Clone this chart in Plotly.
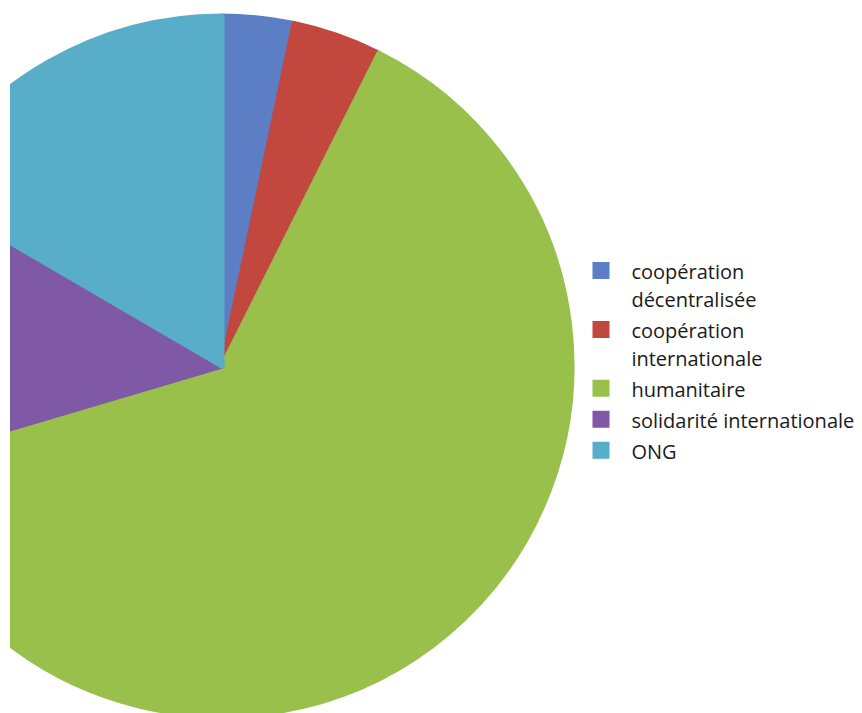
import plotly.graph_objects as go

labels = ["coopération décentralisée", "coopération internationale", "humanitaire",
          "solidarité internationale", "ONG"]
legend_lines = [["coopération", "décentralisée"], ["coopération", "internationale"],
                ["humanitaire"], ["solidarité internationale"], ["ONG"]]
values = [3.3, 4.1, 63.0, 13.0, 16.6]
colors = ["#5B7EC5", "#C2473F", "#99C04B", "#8059A6", "#58ADC8"]

SHIFT = 128
W = 862 + SHIFT
H = 716
R = 350

pad = "&nbsp;&nbsp;"
def fmt(lines):
    return "<br>".join('<span style="font-size:20px">' + pad + l + '</span>' for l in lines)

display = [fmt(l) for l in legend_lines]

fig = go.Figure(go.Pie(
    labels=display,
    values=values,
    sort=False,
    direction="clockwise",
    rotation=0,
    textinfo="none",
    marker=dict(colors=colors, line=dict(color=colors, width=5)),
    domain=dict(x=[0, 2 * R / W], y=[0, 2 * R / H]),
    hovertext=labels,
    hoverinfo="text+percent",
))

fig.update_layout(
    width=W, height=H,
    margin=dict(l=0, r=0, t=0, b=0),
    paper_bgcolor="white",
    plot_bgcolor="white",
    font=dict(family="Open Sans", color="#1a1a1a"),
    showlegend=True,
    legend=dict(
        x=(581 + SHIFT) / W, xanchor="left",
        y=1 - 250 / H, yanchor="top",
        valign="top",
        font=dict(size=21.5, family="Open Sans", color="#1a1a1a"),
        bgcolor="rgba(0,0,0,0)",
        traceorder="normal",
    ),
    shapes=[dict(type="rect", xref="paper", yref="paper", x0=0, x1=(SHIFT + 10) / W,
                 y0=0, y1=1, fillcolor="white", line=dict(width=0), layer="above")],
)

post = ("var d=document.getElementById('{plot_id}');d.style.marginLeft='-%dpx';"
        "document.body.style.margin='0';document.body.style.overflow='hidden';"
        "document.documentElement.style.overflow='hidden';") % SHIFT

fig.write_html("out.html", post_script=post, config={"displayModeBar": False})
